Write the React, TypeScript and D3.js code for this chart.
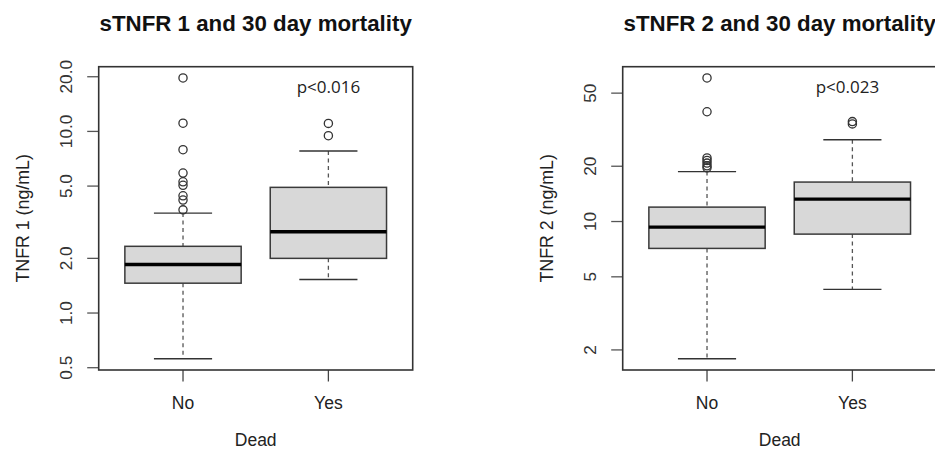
import React from "react";
import * as d3 from "d3";

// ---- data ----
const groups = ["No", "Yes"];

// Panel 1: sTNFR 1 (ng/mL)
const tnfr1Lower = [0.56, 1.53];
const tnfr1Q1 = [1.46, 2.0];
const tnfr1Median = [1.85, 2.8];
const tnfr1Q3 = [2.33, 4.92];
const tnfr1Upper = [3.55, 7.8];
const tnfr1OutNo = [19.7, 11.1, 7.93, 5.9, 5.28, 5.05, 4.42, 4.19, 3.7];
const tnfr1OutYes = [11.07, 9.47];
const tnfr1Ticks = [0.5, 1, 2, 5, 10, 20];
const tnfr1TickLabels = ["0.5", "1.0", "2.0", "5.0", "10.0", "20.0"];

// Panel 2: sTNFR 2 (ng/mL)
const tnfr2Lower = [1.79, 4.27];
const tnfr2Q1 = [7.14, 8.54];
const tnfr2Median = [9.32, 13.24];
const tnfr2Q3 = [11.98, 16.4];
const tnfr2Upper = [18.7, 27.9];
const tnfr2OutNo = [60.5, 39.6, 22.2, 21.5, 20.8, 20.1, 19.6];
const tnfr2OutYes = [35.0, 34.0];
const tnfr2Ticks = [2, 5, 10, 20, 50];
const tnfr2TickLabels = ["2", "5", "10", "20", "50"];

type Panel = {
  title: string;
  ylab: string;
  pText: string;
  lower: number[];
  q1: number[];
  median: number[];
  q3: number[];
  upper: number[];
  outliers: number[][];
  ticks: number[];
  tickLabels: string[];
  x0: number;
  pDx: number;
};

const panels: Panel[] = [
  {
    title: "sTNFR 1 and 30 day mortality",
    ylab: "TNFR 1 (ng/mL)",
    pText: "p<0.016",
    lower: tnfr1Lower,
    q1: tnfr1Q1,
    median: tnfr1Median,
    q3: tnfr1Q3,
    upper: tnfr1Upper,
    outliers: [tnfr1OutNo, tnfr1OutYes],
    ticks: tnfr1Ticks,
    tickLabels: tnfr1TickLabels,
    x0: 98.7,
    pDx: 0,
  },
  {
    title: "sTNFR 2 and 30 day mortality",
    ylab: "TNFR 2 (ng/mL)",
    pText: "p<0.023",
    lower: tnfr2Lower,
    q1: tnfr2Q1,
    median: tnfr2Median,
    q3: tnfr2Q3,
    upper: tnfr2Upper,
    outliers: [tnfr2OutNo, tnfr2OutYes],
    ticks: tnfr2Ticks,
    tickLabels: tnfr2TickLabels,
    x0: 622.7,
    pDx: -5,
  },
];

const PLOT_W = 314;
const Y0 = 66.7;
const Y1 = 370;
const FONT = "'Liberation Sans', Arial, Helvetica, sans-serif";

function BoxPanel({ p }: { p: Panel }) {
  const x1 = p.x0 + PLOT_W;
  const x = d3.scaleLinear().domain([0.42, 2.58]).range([p.x0, x1]);
  const allVals = [...p.lower, ...p.upper, ...p.outliers.flat()];
  const lmin = Math.log10(d3.min(allVals) as number);
  const lmax = Math.log10(d3.max(allVals) as number);
  const ext = (lmax - lmin) * 0.04;
  const y = d3
    .scaleLog()
    .domain([Math.pow(10, lmin - ext), Math.pow(10, lmax + ext)])
    .range([Y1, Y0]);
  const bw = 0.8 * (x(2) - x(1));
  const cx = (p.x0 + x1) / 2;
  const cy = (Y0 + Y1) / 2;

  return (
    <g>
      <text
        x={cx}
        y={31}
        textAnchor="middle"
        fontFamily={FONT}
        fontWeight="bold"
        fontSize={22.3}
        fill="#111"
      >
        {p.title}
      </text>
      {/* boxes */}
      {groups.map((g, i) => {
        const gx = x(i + 1);
        return (
          <g key={g}>
            <line
              x1={gx}
              x2={gx}
              y1={y(p.upper[i])}
              y2={y(p.q3[i])}
              stroke="#555"
              strokeWidth={1.3}
              strokeDasharray="4,3.5"
            />
            <line
              x1={gx}
              x2={gx}
              y1={y(p.q1[i])}
              y2={y(p.lower[i])}
              stroke="#555"
              strokeWidth={1.3}
              strokeDasharray="4,3.5"
            />
            <line
              x1={gx - bw / 4}
              x2={gx + bw / 4}
              y1={y(p.upper[i])}
              y2={y(p.upper[i])}
              stroke="#333"
              strokeWidth={1.4}
            />
            <line
              x1={gx - bw / 4}
              x2={gx + bw / 4}
              y1={y(p.lower[i])}
              y2={y(p.lower[i])}
              stroke="#333"
              strokeWidth={1.4}
            />
            <rect
              x={gx - bw / 2}
              y={y(p.q3[i])}
              width={bw}
              height={y(p.q1[i]) - y(p.q3[i])}
              fill="#d8d8d8"
              stroke="#3a3a3a"
              strokeWidth={1.5}
            />
            <line
              x1={gx - bw / 2}
              x2={gx + bw / 2}
              y1={y(p.median[i])}
              y2={y(p.median[i])}
              stroke="#000"
              strokeWidth={3.4}
            />
            {p.outliers[i].map((v, k) => (
              <circle
                key={k}
                cx={gx}
                cy={y(v)}
                r={4.1}
                fill="none"
                stroke="#333"
                strokeWidth={1.3}
              />
            ))}
            {/* x tick */}
            <line
              x1={gx}
              x2={gx}
              y1={Y1}
              y2={Y1 + 11.5}
              stroke="#444"
              strokeWidth={1.3}
            />
            <text
              x={gx}
              y={409.3}
              textAnchor="middle"
              fontFamily={FONT}
              fontSize={17.5}
              fill="#222"
            >
              {g}
            </text>
          </g>
        );
      })}
      {/* y ticks */}
      {p.ticks.map((t, k) => (
        <g key={t}>
          <line
            x1={p.x0 - 11.5}
            x2={p.x0}
            y1={y(t)}
            y2={y(t)}
            stroke="#555"
            strokeWidth={1.3}
          />
          <text
            transform={`translate(${p.x0 - 27},${y(t)}) rotate(-90)`}
            textAnchor="middle"
            fontFamily={FONT}
            fontSize={17.2}
            fill="#333"
          >
            {p.tickLabels[k]}
          </text>
        </g>
      ))}
      {/* frame */}
      <rect
        x={p.x0}
        y={Y0}
        width={PLOT_W}
        height={Y1 - Y0}
        fill="none"
        stroke="#333"
        strokeWidth={1.6}
      />
      <text
        x={x(2) + p.pDx}
        y={92.5}
        textAnchor="middle"
        fontFamily="'Open Sans', 'Noto Sans', sans-serif"
        fontSize={17}
        fill="#222"
      >
        {p.pText}
      </text>
      <text
        transform={`translate(${p.x0 - 69.5},${cy}) rotate(-90)`}
        textAnchor="middle"
        fontFamily={FONT}
        fontSize={17.8}
        fill="#222"
      >
        {p.ylab}
      </text>
      <text
        x={cx}
        y={446}
        textAnchor="middle"
        fontFamily={FONT}
        fontSize={17.5}
        fill="#222"
      >
        Dead
      </text>
    </g>
  );
}

export default function App() {
  return (
    <svg
      width={935}
      height={452}
      viewBox="0 0 935 452"
      style={{ position: "absolute", left: 0, top: 0, background: "#fff" }}
    >
      <rect x={0} y={0} width={935} height={452} fill="#fff" />
      {panels.map((p) => (
        <BoxPanel key={p.title} p={p} />
      ))}
    </svg>
  );
}
